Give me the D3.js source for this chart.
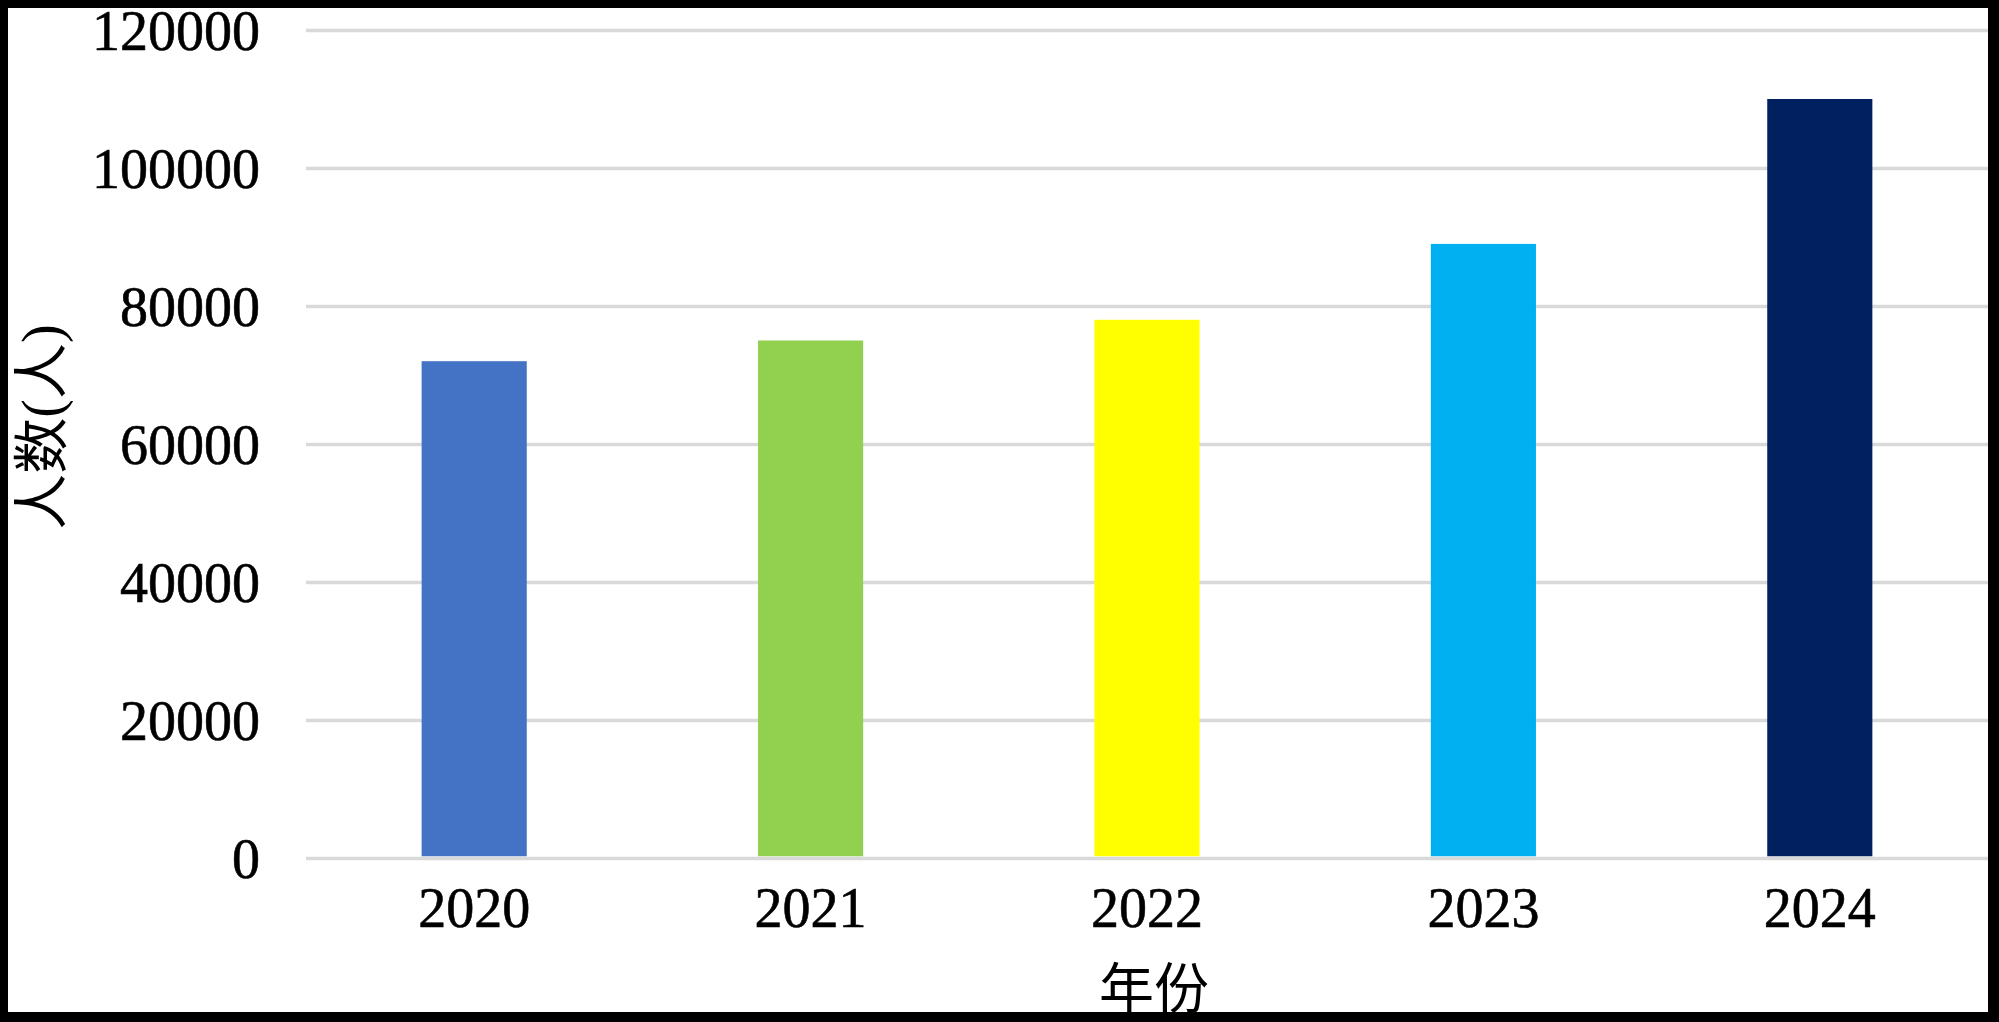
<!DOCTYPE html>
<html>
<head>
<meta charset="utf-8">
<script src="https://cdn.jsdelivr.net/npm/d3@7"></script>
<style>
  body { margin: 0; background: #fff; }
  svg { display: block; }
  .axis text { font-family: "Liberation Serif", "Times New Roman", serif; fill: #000; stroke: #000; stroke-width: 0.6px; }
</style>
</head>
<body>
<svg width="1999" height="1022"></svg>
<script>
// chart values
let years = ["2020", "2021", "2022", "2023", "2024"];
let counts = [72000, 75000, 78000, 89000, 110000];
let barColors = ["#4472C4", "#92D050", "#FFFF00", "#00B0F0", "#002060"];
let yTicks = [0, 20000, 40000, 60000, 80000, 100000, 120000];
let xTitle = "年份";
let yTitle = "人数(人)";

let svg = d3.select("svg"),
    W = +svg.attr("width"),
    H = +svg.attr("height"),
    margin = {top: 30, right: 11, bottom: 164, left: 306},
    width = W - margin.left - margin.right,
    height = H - margin.top - margin.bottom;

// black frame round the picture
svg.append("rect").attr("width", W).attr("height", H).attr("fill", "#000");
svg.append("rect").attr("x", 8).attr("y", 8).attr("width", 1980).attr("height", 1004).attr("fill", "#fff");

let x = d3.scaleBand().domain(years).range([0, width])
    .paddingInner(0.6875).paddingOuter(0.34375);
let y = d3.scaleLinear().domain([0, 120000]).range([height, 0]);

let g = svg.append("g")
    .attr("transform", "translate(" + margin.left + "," + margin.top + ")");

// y axis + gridlines
let yAxis = g.append("g")
    .attr("class", "axis axis--y")
    .call(d3.axisLeft(y).tickValues(yTicks).tickSize(-width).tickPadding(46).tickFormat(d3.format("d")));
yAxis.select(".domain").remove();
yAxis.selectAll("line").attr("stroke", "#D9D9D9").attr("stroke-width", 3.5);
yAxis.selectAll("text").attr("font-size", 56).attr("dy", "0.34em");

// x axis
let xAxis = g.append("g")
    .attr("class", "axis axis--x")
    .attr("transform", "translate(0," + height + ")")
    .call(d3.axisBottom(x).tickSize(0).tickPadding(29));
xAxis.select(".domain").remove();
xAxis.selectAll("text").attr("font-size", 56);

// bars
g.selectAll(".bar")
    .data(years)
    .enter().append("rect")
    .attr("class", "bar")
    .attr("x", function (d) { return x(d); })
    .attr("y", function (d, i) { return y(counts[i]); })
    .attr("width", x.bandwidth())
    .attr("height", function (d, i) { return y(0) - 1.75 - y(counts[i]); })
    .attr("fill", function (d, i) { return barColors[i]; });

// axis titles
svg.append("text")
    .attr("x", 1154)
    .attr("y", 1008)
    .attr("text-anchor", "middle")
    .attr("font-family", "'Liberation Serif', 'Noto Sans CJK SC', serif")
    .attr("font-size", 55)
    .text(xTitle);

svg.append("text")
    .attr("transform", "translate(61,427) rotate(-90)")
    .attr("text-anchor", "middle")
    .attr("font-family", "'Liberation Serif', 'Noto Sans CJK SC', serif")
    .attr("font-size", 56)
    .text(yTitle);
</script>
</body>
</html>
